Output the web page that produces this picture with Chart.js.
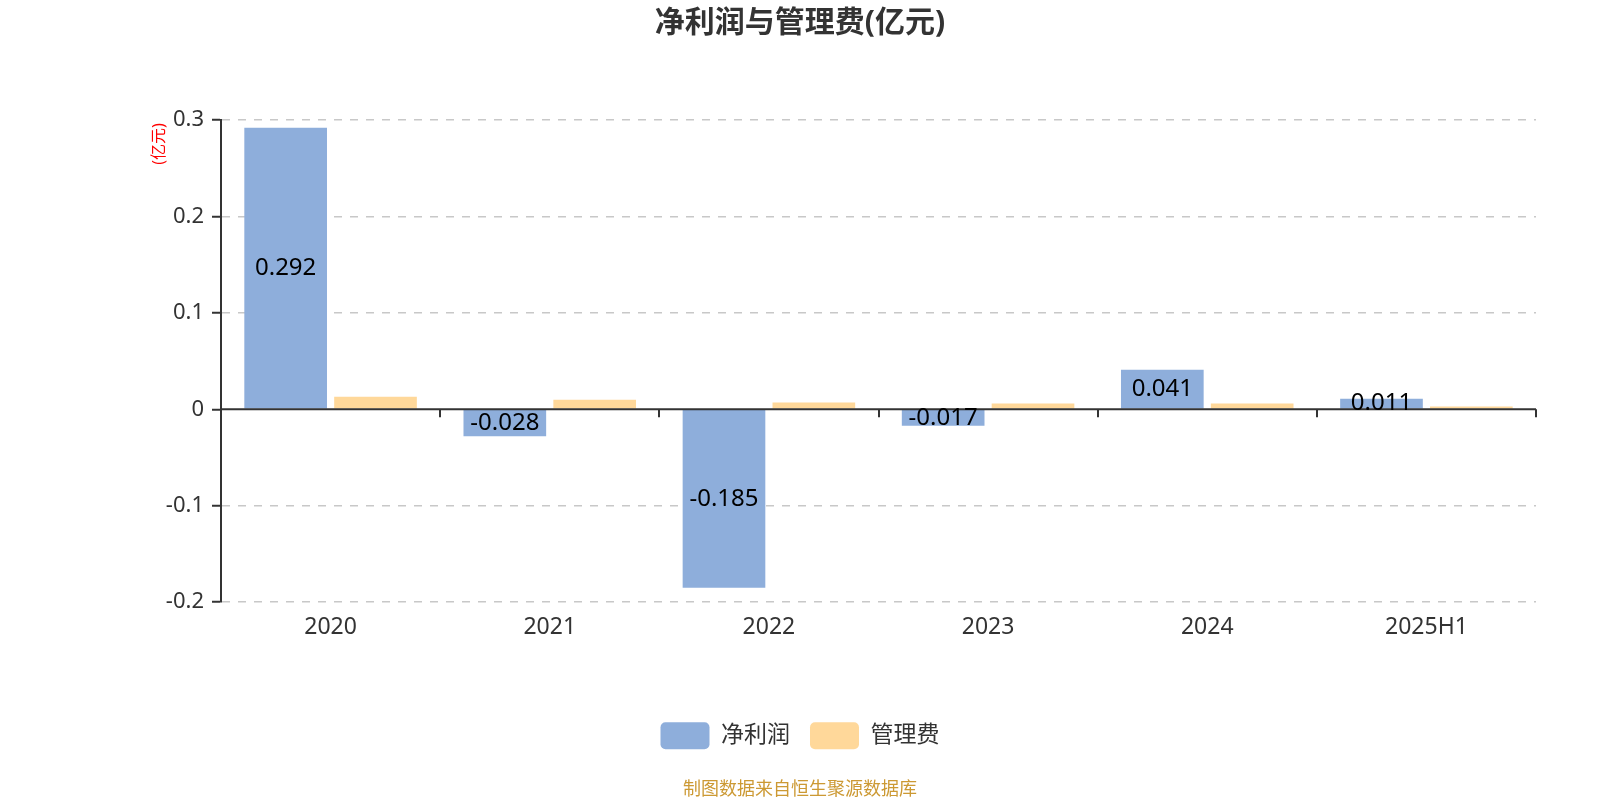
<!DOCTYPE html>
<html>
<head>
<meta charset="utf-8">
<script src="https://cdn.jsdelivr.net/npm/chart.js@4.4.0/dist/chart.umd.min.js"></script>
<style>html,body{margin:0;background:#fff}</style>
</head>
<body>
<canvas id="chart" width="1600" height="800"></canvas>
<script>
const years = ['2020', '2021', '2022', '2023', '2024', '2025H1'];
const netProfit = [0.292, -0.028, -0.185, -0.017, 0.041, 0.011];
const adminCost = [0.013, 0.010, 0.007, 0.006, 0.006, 0.003];
const yTicks = [-0.2, -0.1, 0, 0.1, 0.2, 0.3];

const FONT = '"Noto Sans", "Noto Sans CJK SC", sans-serif';

// zero line with category ticks, bar value labels, y axis unit
const extras = {
  id: 'extras',
  afterDatasetsDraw(chart) {
    const { ctx, chartArea: { left, right, top }, scales: { y } } = chart;
    const y0 = y.getPixelForValue(0);
    const n = years.length;
    ctx.save();
    ctx.strokeStyle = '#333';
    ctx.lineWidth = 2;
    ctx.beginPath();
    ctx.moveTo(left, y0);
    ctx.lineTo(right, y0);
    for (let i = 1; i <= n; i++) {
      const px = Math.round(left + (right - left) * i / n);
      ctx.moveTo(px, y0);
      ctx.lineTo(px, y0 + 8);
    }
    ctx.stroke();

    ctx.fillStyle = '#000';
    ctx.font = '24px ' + FONT;
    ctx.textAlign = 'center';
    ctx.textBaseline = 'middle';
    chart.getDatasetMeta(0).data.forEach((bar, i) => {
      ctx.fillText(String(netProfit[i]), bar.x, (bar.y + bar.base) / 2);
    });

    ctx.translate(left - 62, top + 24);
    ctx.rotate(-Math.PI / 2);
    ctx.fillStyle = '#ff0000';
    ctx.font = '16px ' + FONT;
    ctx.fillText('(亿元)', 0, 0);
    ctx.restore();
  }
};

new Chart(document.getElementById('chart'), {
  type: 'bar',
  data: {
    labels: years,
    datasets: [
      { label: '净利润', data: netProfit, backgroundColor: '#8eaedb' },
      { label: '管理费', data: adminCost, backgroundColor: '#ffd89a' }
    ]
  },
  options: {
    responsive: false,
    animation: false,
    devicePixelRatio: 1,
    categoryPercentage: 0.82,
    barPercentage: 0.92,
    layout: { padding: 0 },
    scales: {
      x: {
        grid: { display: false, drawTicks: false },
        border: { display: false },
        ticks: { color: '#333', font: { size: 23, family: FONT }, padding: 11 },
        afterFit(scale) { scale.height = 100; }
      },
      y: {
        min: -0.2,
        max: 0.3,
        afterBuildTicks(scale) { scale.ticks = yTicks.map(v => ({ value: v })); },
        afterFit(scale) { scale.width = 221; },
        ticks: {
          color: '#333',
          font: { size: 22, family: FONT },
          padding: 8,
          callback: v => (Math.abs(v) < 1e-9 ? '0' : v.toFixed(1))
        },
        grid: {
          color: ctx => (ctx.tick && Math.abs(ctx.tick.value) < 1e-9 ? 'rgba(0,0,0,0)' : '#c8c8c8'),
          lineWidth: 1.5,
          tickLength: 9,
          tickColor: '#333',
          tickWidth: 2
        },
        border: { display: true, color: '#333', width: 2, dash: [8, 8] }
      },
      // empty right-hand axis that only reserves the right margin
      yRight: {
        position: 'right',
        ticks: { display: false },
        grid: { display: false, drawTicks: false },
        border: { display: false },
        afterFit(scale) { scale.width = 64; }
      }
    },
    plugins: {
      title: {
        display: true,
        text: '净利润与管理费(亿元)',
        color: '#333',
        font: { size: 30, weight: 'bold', family: FONT },
        padding: { top: 5, bottom: 79 }
      },
      subtitle: {
        display: true,
        position: 'bottom',
        text: '制图数据来自恒生聚源数据库',
        color: '#cc9933',
        font: { size: 18, family: FONT, lineHeight: 1.1 },
        padding: { top: 21, bottom: 0 }
      },
      legend: {
        position: 'bottom',
        labels: {
          color: '#333',
          font: { size: 23, family: FONT },
          boxWidth: 49,
          boxHeight: 27,
          padding: 20,
          useBorderRadius: true,
          borderRadius: 5
        }
      },
      tooltip: { enabled: false }
    }
  },
  plugins: [extras]
});
</script>
</body>
</html>
